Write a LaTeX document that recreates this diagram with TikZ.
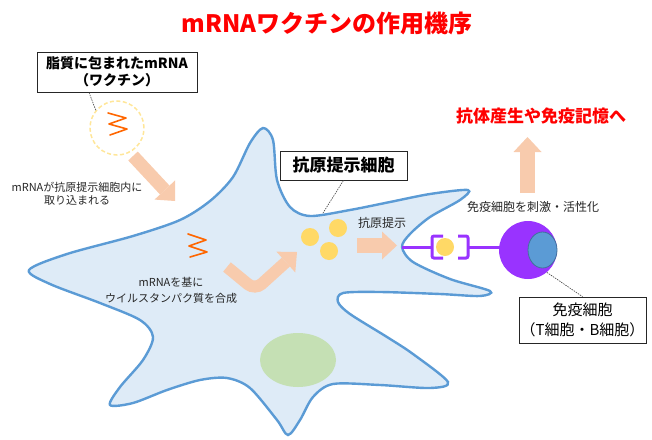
\documentclass[tikz,border=0pt]{standalone}
\usepackage{fontspec}
\setmainfont{Noto Sans CJK JP}
\usetikzlibrary{arrows.meta}

\definecolor{peach}{RGB}{248,203,173}
\definecolor{cellfill}{RGB}{222,235,247}
\definecolor{cellline}{RGB}{91,155,213}
\definecolor{antigen}{RGB}{255,217,102}
\definecolor{lipid}{RGB}{255,230,153}
\definecolor{rna}{RGB}{255,102,0}
\definecolor{violet}{RGB}{153,51,255}
\definecolor{nucleus}{RGB}{197,224,180}
\definecolor{tcore}{RGB}{91,155,213}
\definecolor{tcoreline}{RGB}{65,113,156}
\definecolor{leader}{RGB}{64,64,64}
\definecolor{txt}{RGB}{38,38,38}
\definecolor{alert}{RGB}{255,0,0}

\tikzset{
  labelbox/.style={draw=black!85, line width=0.8pt, fill=white, align=center,
    inner sep=0pt, text=black},
  note/.style={align=center, text=txt, inner sep=0pt},
  leaderline/.style={draw=leader, line width=0.6pt, dash pattern=on 1.5pt off 1pt},
  fatarrow/.style={draw=peach, line width=#1, line cap=butt,
    -{Triangle[length=15pt, width=28pt, line width=0pt]}},
  rnawave/.style={draw=rna, line width=1.6pt, line join=round, line cap=round},
  antigendot/.style={circle, fill=antigen, minimum size=18pt, inner sep=0pt},
  receptor/.style={draw=violet, line width=3pt, rounded corners=2pt}
}

\begin{document}
\begin{tikzpicture}[x=1pt, y=-1pt]
  \useasboundingbox (0,0) rectangle (652,439);

  % title
  \node[text=alert, font=\fontsize{24}{28}\selectfont\bfseries] (title) at (327,23)
    {mRNAワクチンの作用機序};

  % antigen-presenting cell body
  \draw[fill=cellfill, draw=cellline, line width=2.4pt]
    plot[smooth cycle, tension=0.5] coordinates {
      (29,270) (67,254) (133,236) (180,220) (210,201) (233,177) (250,143)
      (263,128) (273,140) (277,180) (290,207) (310,216) (350,210) (390,202)
      (430,194) (468,190) (460,200) (430,217) (410,234) (402,247) (413,262)
      (450,279) (490,291) (480,296) (440,294) (380,292) (343,293) (338,302)
      (350,314) (387,337) (413,354) (448,382) (430,388) (380,385) (333,384)
      (313,397) (300,420) (288,435) (277,420) (250,388) (227,378) (200,380)
      (167,390) (133,403) (110,405) (120,387) (143,360) (153,337) (140,320)
      (100,303) (50,284)
    };
  \coordinate (notch) at (402,247);

  % nucleus
  \fill[nucleus] (298,360) ellipse [x radius=38, y radius=27];

  % lipid nanoparticle with mRNA
  \node[circle, draw=lipid, line width=1.5pt, dash pattern=on 4pt off 2.5pt,
        minimum size=54pt, inner sep=0pt] (lnp) at (117,128) {};
  \draw[rnawave] (108,113) -- (126,118) -- (109,124) -- (127,129) -- (110,135);

  % label box for the vaccine
  \node[labelbox, minimum width=160pt, minimum height=40pt,
        font=\fontsize{14}{17}\selectfont\bfseries] (vaccine) at (117,72)
    {脂質に包まれたmRNA\\（ワクチン）};
  \draw[leaderline] (vaccine.south) ++(-28,0) coordinate (v1) -- (lnp.140);

  % uptake arrow
  \coordinate (up0) at (133,156);
  \coordinate (up1) at (175,201);
  \draw[fatarrow=13pt] (up0) -- (up1);
  \node[note, font=\fontsize{11}{13}\selectfont] (uptake) at (77,194)
    {mRNAが抗原提示細胞内に\\取り込まれる};

  % mRNA inside the cell
  \draw[rnawave] (188,234) -- (206,240) -- (189,246) -- (207,252) -- (190,257);

  % synthesis arrow (bent)
  \coordinate (s0) at (227,267);
  \coordinate (s1) at (255,290);
  \coordinate (s2) at (297,252);
  \draw[fatarrow=12pt, rounded corners=9pt] (s0) -- (s1) -- (s2);
  \node[note, font=\fontsize{11}{16}\selectfont] (synth) at (171,290)
    {mRNAを基に\\ウイルスタンパク質を合成};

  % antigens
  \node[antigendot] (ag1) at (310,237) {};
  \node[antigendot] (ag2) at (338,228) {};
  \node[antigendot] (ag3) at (329,251) {};

  % cell label
  \node[labelbox, minimum width=127pt, minimum height=29pt,
        font=\fontsize{17}{20}\selectfont\bfseries] (apc) at (343.5,165.5)
    {抗原提示細胞};
  \coordinate (apcmark) at (323,213);
  \draw[leaderline] (apc.south) -- (apcmark);

  % presentation arrow
  \coordinate (p0) at (357,245.5);
  \coordinate (p1) at (397,245.5);
  \draw[fatarrow=15pt] (p0) -- (p1);
  \node[note, font=\fontsize{12}{14}\selectfont] (present) at (382,223) {抗原提示};

  % receptor complex between the cells
  \coordinate (rA) at (432,247);
  \coordinate (rB) at (468,247);
  \coordinate (rC) at (500,247);
  \draw[violet, line width=3pt] (notch) -- (rA);
  \draw[receptor] (443,236) -- (432,236) -- (432,258) -- (443,258);
  \draw[receptor] (458,236) -- (468,236) -- (468,258) -- (458,258);
  \draw[violet, line width=3pt] (rB) -- (rC);
  \node[antigendot] (ag4) at (445,247) {};

  % immune cell
  \node[circle, fill=violet, minimum size=58pt, inner sep=0pt] (tcell) at (528,250) {};
  \draw[fill=tcore, draw=tcoreline, line width=0.8pt] (542.5,250) ellipse [x radius=14.5, y radius=18];

  \node[labelbox, minimum width=127pt, minimum height=46pt,
        font=\fontsize{15}{20}\selectfont] (tlabel) at (582.5,320)
    {免疫細胞\\（T細胞・B細胞）};
  \draw[leaderline] (tcell.-50) -- (tlabel.north);

  \node[note, font=\fontsize{12}{14}\selectfont] (activate) at (533,207)
    {免疫細胞を刺激・活性化};

  % outcome arrow
  \coordinate (o0) at (527.5,193);
  \coordinate (o1) at (527.5,137);
  \draw[fatarrow=15pt] (o0) -- (o1);
  \node[text=alert, font=\fontsize{17}{20}\selectfont\bfseries] (outcome) at (541,116)
    {抗体産生や免疫記憶へ};
\end{tikzpicture}
\end{document}
